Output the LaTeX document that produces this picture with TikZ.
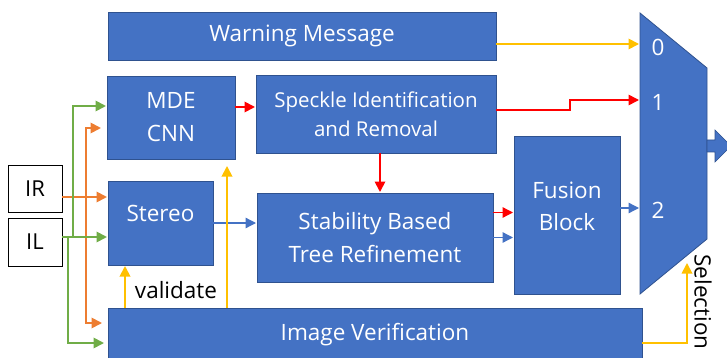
\documentclass[tikz,border=0pt]{standalone}
\usepackage{fontspec}
\setmainfont{Open Sans}
\usetikzlibrary{arrows.meta,calc}
\definecolor{blu}{HTML}{4472C4}
\definecolor{bord}{HTML}{2F528F}
\definecolor{ora}{HTML}{ED7D31}
\definecolor{grn}{HTML}{70AD47}
\definecolor{yel}{HTML}{FFC000}
\definecolor{rd}{HTML}{FF0000}
\tikzset{
  blk/.style={draw=bord, fill=blu, line width=0.8pt, text=white, align=center, inner sep=0pt, outer sep=0pt},
  inbox/.style={draw=black, fill=white, line width=0.8pt, inner sep=0pt, outer sep=0pt, minimum width=54pt, font=\fontsize{22}{26}\selectfont},
  wtxt/.style={text=white, align=center, inner sep=0pt},
  arr/.style={line width=1.8pt, -{Triangle[length=10.5pt,width=10.5pt]}, shorten >=1pt},
  fA/.style={font=\fontsize{22.5}{33}\selectfont},
  fB/.style={font=\fontsize{20.5}{29}\selectfont},
}
\begin{document}
\begin{tikzpicture}[x=1pt,y=-1pt]
\useasboundingbox (0,0) rectangle (727,358);
% boxes
\node[blk, fA, minimum width=388pt, minimum height=48pt] (warn) at (302,36) {Warning Message};
\node[blk, fA, minimum width=128pt, minimum height=83pt] (mde) at (171,117.5) {MDE\\CNN};
\node[blk, fB, minimum width=240pt, minimum height=78pt] (spk) at (376,114) {Speckle Identification\\and Removal};
\node[blk, minimum width=105pt, minimum height=84pt] (ster) at (160.5,223) {};
\node[wtxt, fA] (stert) at (160.5,213) {Stereo};
\node[blk, fA, minimum width=236pt, minimum height=89pt] (stab) at (375,237.5) {Stability Based\\Tree Refinement};
\node[blk, minimum width=106pt, minimum height=158pt] (fus) at (567,215) {};
\node[wtxt, fA, font=\fontsize{22.5}{32}\selectfont] (fust) at (567,206) {Fusion\\Block};
\node[blk, fA, minimum width=534pt, minimum height=54pt] (iv) at (375,335) {Image Verification};
\node[inbox, minimum height=47pt] (ir) at (35,188.5) {IR};
\node[inbox, minimum height=48pt] (il) at (35,242) {IL};
% mux
\draw[draw=bord, fill=blu, line width=0.8pt] (640,13) -- (707,68) -- (707,239) -- (640,294) -- cycle;
\draw[draw=bord, fill=blu, line width=0.6pt] (707,140) -- (715,140) -- (715,130) -- (731,146) -- (715,162) -- (715,152) -- (707,152) -- cycle;
\node[wtxt, fA] (l0) at (658,47) {0};
\node[wtxt, fA] (l1) at (658,102) {1};
\node[wtxt, fA] (l2) at (658,210) {2};
\node[fA, rotate=-90, inner sep=0pt] (seltxt) at (703,302) {Selection};
\node[fA, inner sep=0pt] (valtxt) at (176,290) {validate};
\coordinate (m0) at (640,44);
\coordinate (m1) at (640,100);
\coordinate (m2) at (640,208);
\coordinate (sel) at (687,262);
% connectors
\draw[arr, yel] ([yshift=-8pt]warn.east) -- (m0);
\draw[arr, rd, line width=1.5pt] ([yshift=4pt]spk.east) -- ++(74,0) |- (m1);
\draw[arr, rd] ([yshift=10.5pt]mde.east) -- ([yshift=10.5pt]mde.east -| spk.west);
\draw[arr, rd] ([xshift=4pt]spk.south) -- ([xshift=4pt]spk.south |- stab.north);
\draw[arr, rd, line width=1.3pt] ([yshift=25pt]stab.east) -- ([yshift=25pt]stab.east -| fus.west);
\draw[arr, blu, line width=1.3pt] (stab.east) -- (stab.east -| fus.west);
\draw[arr, blu, line width=1.3pt] (ster.east) -- (ster.east -| stab.west);
\draw[arr, blu, line width=1.3pt] ([yshift=7pt]fus.east) -- (m2);
\draw[arr, yel] ([yshift=-8pt]iv.east) -| (sel);
\coordinate (vx) at (125,0);
\coordinate (mx) at (227,0);
\draw[arr, yel] (iv.north -| vx) -- (ster.south -| vx);
\draw[arr, yel, shorten >=7pt] (iv.north -| mx) -- (mde.south -| mx);
% inputs
\coordinate (oj) at (86,197);
\coordinate (gj1) at (73,237);
\coordinate (gj2) at (68,237);
\draw[arr, ora] ([yshift=-8.5pt]ir.east) -- ([yshift=-8.5pt]ir.east -| ster.west);
\draw[arr, ora, shorten >=6pt] (oj) |- ([yshift=-10.5pt]mde.west);
\draw[arr, ora, shorten >=6pt] (oj) |- ([yshift=12pt]iv.west);
\draw[arr, grn] ([yshift=5pt]il.east) -- ([yshift=5pt]il.east -| ster.west);
\draw[arr, grn] (gj1) |- ([yshift=11.5pt]mde.west);
\draw[arr, grn, shorten >=4pt] (gj2) |- ([yshift=-8pt]iv.west);
\end{tikzpicture}
\end{document}
